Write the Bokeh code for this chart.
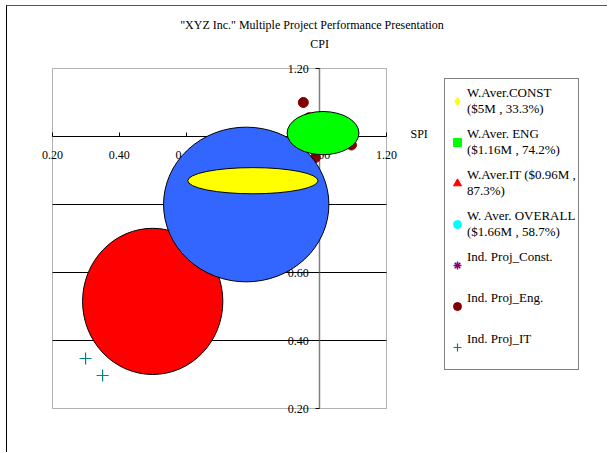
from bokeh.plotting import figure
from bokeh.models import (Range1d, LinearAxis, FixedTicker, Label, Legend,
                          LegendItem, NumeralTickFormatter, BoxAnnotation)
from bokeh.embed import file_html
from bokeh.resources import INLINE

FONT = "Liberation Serif"

# ---- data -------------------------------------------------------------
# weighted averages (bubbles): CONST, ENG, IT, OVERALL
wavg_labels = ["W.Aver.CONST\n($5M , 33.3%)",
               "W.Aver. ENG\n($1.16M , 74.2%)",
               "W.Aver.IT ($0.96M ,\n87.3%)",
               "W. Aver. OVERALL\n($1.66M , 58.7%)"]
ind_labels = ["Ind. Proj_Const.", "Ind. Proj_Eng.", "Ind. Proj_IT"]
wavg_spi = [0.80, 1.01, 0.50, 0.78]
wavg_cpi = [0.87, 1.01, 0.515, 0.80]
bubble_w = [0.39, 0.215, 0.42, 0.495]
bubble_h = [0.077, 0.127, 0.43, 0.455]

# individual projects
const_spi = [0.72, 0.86]
const_cpi = [0.87, 0.86]
eng_spi = [0.951, 0.968, 0.987, 1.095]
eng_cpi = [1.10, 1.055, 0.938, 0.975]
it_spi = [0.299, 0.350]
it_cpi = [0.347, 0.297]

x_ticks = [0.2, 0.4, 0.6, 0.8, 1.0, 1.2]
y_ticks = [0.2, 0.4, 0.6, 0.8, 1.0, 1.2]
grid_ticks = [0.4, 0.6, 0.8]
axis_min, axis_max = 0.2, 1.2

title_text = '"XYZ Inc." Multiple Project Performance Presentation'

# ---- layout (canvas pixels) -------------------------------------------------
W, H = 601, 447                 # canvas size
PL, PT, PW, PH = 45, 62, 334, 340   # plot area inside the canvas
sx = (axis_max - axis_min) / PW
sy = (axis_max - axis_min) / PH
x0 = axis_min - PL * sx
x1 = axis_min + (W - PL) * sx
y1 = axis_max + PT * sy
y0 = axis_max - (H - PT) * sy

p = figure(width=W, height=H, output_backend="svg", toolbar_location=None,
           x_range=Range1d(x0, x1), y_range=Range1d(y0, y1),
           x_axis_type=None, y_axis_type=None,
           min_border=0)
p.styles = {"margin-left": "6px", "margin-top": "5px",
            "border-left": "1px solid #000000", "border-top": "1px solid #555555"}
p.outline_line_color = None
p.background_fill_color = "white"
p.border_fill_color = "white"
p.xgrid.visible = False
p.ygrid.visible = False

# plot area frame
p.add_layout(BoxAnnotation(left=axis_min, right=axis_max, bottom=axis_min, top=axis_max,
                           fill_alpha=0, line_color="black", line_width=1,
                           level="underlay"))
# horizontal grid lines
p.segment(x0=[axis_min] * len(grid_ticks), x1=[axis_max] * len(grid_ticks),
          y0=grid_ticks, y1=grid_ticks, line_color="black", line_width=1,
          level="underlay")

xaxis = LinearAxis(fixed_location=1.0, ticker=FixedTicker(ticks=x_ticks),
                   bounds=(axis_min, axis_max),
                   formatter=NumeralTickFormatter(format="0.00"),
                   major_tick_in=4, major_tick_out=0, minor_tick_line_color=None,
                   major_label_standoff=14, axis_line_color="black",
                   major_tick_line_color="black",
                   major_label_text_font=FONT, major_label_text_font_size="12px",
                   major_label_text_color="black", level="underlay")
p.add_layout(xaxis, "below")

yaxis = LinearAxis(fixed_location=1.0, ticker=FixedTicker(ticks=y_ticks),
                   bounds=(axis_min, axis_max),
                   formatter=NumeralTickFormatter(format="0.00"),
                   major_tick_in=0, major_tick_out=4, minor_tick_line_color=None,
                   major_label_standoff=7, axis_line_color="#808080",
                   axis_line_width=1.5, major_tick_line_color="black",
                   major_label_text_font=FONT, major_label_text_font_size="12px",
                   major_label_text_color="black", level="underlay")
p.add_layout(yaxis, "left")

# markers of the weighted averages (under the bubbles)
r_const_avg = p.scatter([wavg_spi[0]], [wavg_cpi[0]], marker="diamond", size=11,
                        fill_color="#FFFF00", line_color="#FFFF00")
r_eng_avg = p.scatter([wavg_spi[1]], [wavg_cpi[1]], marker="square", size=8,
                      fill_color="#00FF00", line_color="#00FF00")
r_it_avg = p.scatter([wavg_spi[2]], [wavg_cpi[2]], marker="triangle", size=11,
                     fill_color="#FF0000", line_color="#FF0000")
r_all_avg = p.scatter([wavg_spi[3]], [wavg_cpi[3]], marker="circle", size=9,
                      fill_color="#00FFFF", line_color="#00FFFF")

# individual projects
r_const = p.scatter(const_spi, const_cpi, marker="asterisk", size=10,
                    line_color="#800080", line_width=1.5)
r_eng = p.scatter(eng_spi, eng_cpi, marker="circle", size=10,
                  fill_color="#800000", line_color="#800000")
r_it = p.scatter(it_spi, it_cpi, marker="cross", size=12,
                 line_color="#008080", line_width=1.2)

# bubbles: IT, OVERALL, CONST, ENG (drawing order)
bubble_colors = ["#FFFF00", "#00FF00", "#FF0000", "#3366FF"]
for i in [2, 3, 0, 1]:
    p.ellipse([wavg_spi[i]], [wavg_cpi[i]], width=bubble_w[i], height=bubble_h[i],
              fill_color=bubble_colors[i], line_color="black", line_width=1)

# titles
p.add_layout(Label(x=0.965, y=axis_max, x_offset=4, y_offset=44, text=title_text,
                   text_font=FONT, text_font_size="12px", text_align="center",
                   text_baseline="middle", text_color="black"))
p.add_layout(Label(x=1.0, y=axis_max, y_offset=25, text="CPI",
                   text_font=FONT, text_font_size="12px", text_align="center",
                   text_baseline="middle", text_color="black"))
p.add_layout(Label(x=axis_max, y=1.0, x_offset=24, y_offset=3, text="SPI",
                   text_font=FONT, text_font_size="12px", text_align="left",
                   text_baseline="middle", text_color="black"))

legend = Legend(items=[
    LegendItem(label=wavg_labels[0], renderers=[r_const_avg]),
    LegendItem(label=wavg_labels[1], renderers=[r_eng_avg]),
    LegendItem(label=wavg_labels[2], renderers=[r_it_avg]),
    LegendItem(label=wavg_labels[3], renderers=[r_all_avg]),
    LegendItem(label=ind_labels[0] + "\n ", renderers=[r_const]),
    LegendItem(label=ind_labels[1] + "\n ", renderers=[r_eng]),
    LegendItem(label=ind_labels[2] + "\n ", renderers=[r_it]),
], location=(437, 83), border_line_color="black", border_line_width=1,
    label_text_font=FONT, label_text_font_size="13px", label_text_color="black",
    glyph_width=20, glyph_height=20, label_standoff=0, label_height=40,
    spacing=1, padding=2, margin=0, background_fill_alpha=1.0)
p.add_layout(legend)

open("out.html", "w").write(file_html(p, INLINE))
